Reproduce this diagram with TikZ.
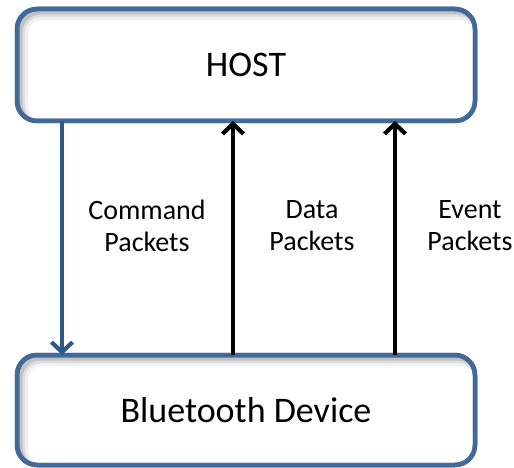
\documentclass[tikz,border=0pt]{standalone}
\usepackage{fontspec}
\setmainfont{Carlito}
\usetikzlibrary{arrows.meta}
\definecolor{boxblue}{HTML}{41699A}
\definecolor{arrblue}{HTML}{2B5A8A}
\tikzset{
  x=1pt,y=1pt,
  hostbox/.style={draw=boxblue, line width=4.5pt, rounded corners=20pt, fill=white,
    minimum width=458pt, minimum height=112pt, inner sep=0pt, outer sep=0pt,
    font=\fontsize{36}{40}\selectfont},
  rim/.style={draw=boxblue, line width=4.5pt, rounded corners=20pt},
  shade1/.style={rounded corners=20pt, draw=black, line width=12pt, opacity=0.06},
  shade2/.style={rounded corners=20pt, draw=black, line width=8pt, opacity=0.08},
  shade3/.style={rounded corners=20pt, draw=black, line width=5pt, opacity=0.12},
  conn/.style={line width=4.2pt, -{Straight Barb[length=10pt,width=21pt,line width=4.2pt]}},
  lbl/.style={align=center, font=\fontsize{28}{32}\selectfont, inner sep=0pt}
}
\newcommand{\innershadow}[1]{%
  \begin{scope}
    \clip[rounded corners=20pt] (#1.south west) rectangle (#1.north east);
    \path[shade1] ([shift={(5,-5)}]#1.south west) rectangle ([shift={(5,-5)}]#1.north east);
    \path[shade2] ([shift={(4,-4)}]#1.south west) rectangle ([shift={(4,-4)}]#1.north east);
    \path[shade3] ([shift={(3,-3)}]#1.south west) rectangle ([shift={(3,-3)}]#1.north east);
  \end{scope}
  \path[rim] (#1.south west) rectangle (#1.north east);}
\begin{document}
\begin{tikzpicture}
\useasboundingbox (0,0) rectangle (514,-468);
\node[hostbox] (host) at (246,-65) {HOST};
\innershadow{host}
\node[hostbox, minimum height=110pt] (dev) at (246,-410) {Bluetooth Device};
\innershadow{dev}
\coordinate (c1) at (62,0);
\coordinate (c2) at (233,0);
\coordinate (c3) at (395,0);
\draw[conn, arrblue] (host.south -| c1) -- (dev.north -| c1);
\draw[conn, black] (dev.north -| c2) -- (host.south -| c2);
\draw[conn, black] (dev.north -| c3) -- (host.south -| c3);
\node[lbl] (l1) at (147,-226) {Command\\Packets};
\node[lbl] (l2) at (312,-226) {Data\\Packets};
\node[lbl] (l3) at (470,-226) {Event\\Packets};
\end{tikzpicture}
\end{document}
